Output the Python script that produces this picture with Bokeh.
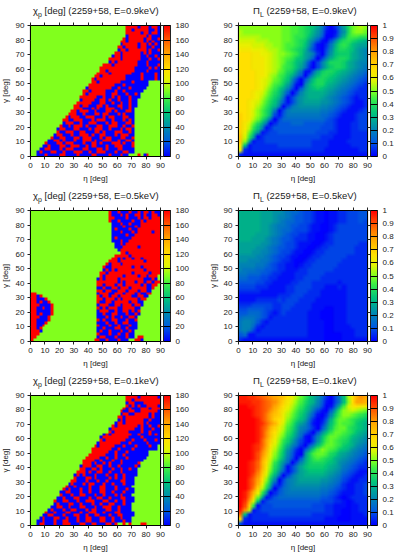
from bokeh.embed import file_html
from bokeh.resources import INLINE
from bokeh.layouts import column, row
from bokeh.models import ColorBar, Div, FixedTicker, LinearAxis, LinearColorMapper, Range1d
from bokeh.plotting import figure
import numpy as np

# chi_p [deg]: a number is a run of 90 deg cells, R=180, B=0. Rows from gamma=89 down to 1, 2 deg cells.
CHI_09 = [
(33,"RRRRBRRRBRRB"),(33,"RRBRRRRRBBRB"),(33,"RRRRRBRRBRRB"),(33,"BRRRRRRBRBBB"),(32,"RBRRRRRBRRBBR"),
(31,"RRBRRRRRBRBRBB"),(31,"BRRRRRBRRBRBRB"),(30,"RRBRRRRBRRBBRBB"),(30,"BRRBRRRRRRBRBBR"),(29,"RRBRRRRRRBRBRBBB"),
(28,"BRRBRRRRRRBBRBBRB"),(27,"RRRRBRRRRRRBBBRBBR"),(27,"BRBRRRRRRRBBBRBBBB"),(25,"RRRBRRRRRRRRBBBRBBBR"),(24,"RRRRRRRRRRRRBBBBBRBRB"),
(24,"RRBRRRRRRRRRBBBBRBBBB"),(23,"RRRRBRRRRRRRBBBRBBBBRB"),(22,"RRBRRRRRRRRBBBBBRBBBBRB"),(21,"RBRRRRRRRRRRBBBBBRBBBBRB"),(21,"RRBRRRRRRRBBBBRBBBBB"),
(20,"RRRRRRRRRBBBRBBBBBBBB"),(19,"BRRRRRRRRBBRBBBRBBBBB"),(18,"RRBRRRRRBBBRBBRBBBBBB"),(18,"RBRRRRRRBBRRBBBRBBRB"),(17,"RRRRRRBBRBBRBRBBBRBBB"),
(17,"BRRRRBBRRBRBBRBBBRBB"),(16,"RRRRRBBBRRBBRBBRBBRBB"),(15,"RRBRRBBBRRBRBBBRRBBRBB"),(15,"RRRBBBRBRBBRRRBBRBBRB"),(14,"RRBRRRBBRBBBRRBRBBBRRB"),
(13,"RRRBBRBBBRRBRRBBBRBRBBB"),(12,"RBRRRBBRRRBBBRBRRBBBRRBB"),(11,"RRBBRRRBBBRBRRRBBRBBBRBRB"),(11,"BRRRBBRBBRRRBBBRBRRBBBRRB"),(10,"RBBRBRRRBRBBBRRBBRRRBBRBBR"),
(9,"BRRBBBRRBBBRBRRRBBRBBBRBRRB"),(9,"RBBRRRBBRRBBBRRBRBBBRRRBBRB"),(8,"BRRBBBRBBRRRBRBBRRBBBRBRRRBB"),(7,"RBBRRBBBRRBRRRBBBRBRRBBBRRBBR"),(6,"BBRRBRBBBRBBRRRBRBBRRRBBRBBRRB"),
(5,"RBBBRRBRRRBBBRBBRRBRBBBRRRBRBBR"),(4,"BBRBBBRRBBRRRBBRBRRBBBRBBRRRBBBR"),(3,"BBRRBBBRBRRRBBBRRBBBRRBRBBBRRBBBB"),(2,"BRBBBRRBBRBBBRRRBBRBBRRRBBBRBBRRBB"),(2,"BBBRBBBBRRBBBBRBBBBRRBBBBRBBBRBB",3,"R",1,"BR"),
]
CHI_05 = [
(27,"RBBRBBBRBBRBRRBRBB"),(27,"RBBBRBRBBRRBRBBRRB"),(27,"RRBBBBRBBBRBRRBRRR"),(27,"RBBRBBBBRBBRBRRRRR"),(28,"BBBRBBRBBBRRRRRRR"),
(28,"BBBBRBBBRBRRRRRRR"),(28,"BRBBBBRBBRRRRRRRR"),(28,"BBBRBBBRBRRRRRBRR"),(28,"BBBBBRBBRRRRRRRRR"),(28,"BRBBBBBRRRRRRRRRR"),
(28,"BBBRBBRRRRRRRRRRR"),(29,"BBRBRRRRRRRRRRRR"),(29,"BBBRRRRRBRRRRRRR"),(30,"BRRRRRRRRRRRRRR"),(31,"RRBRRRRRRRRRRR"),
(29,"RRRRRBRRRRRRRRRR"),(28,"RRBRBRRBRRBRRRRRR"),(27,"RRRBRRRRRRRRBRRRRR"),(26,"RBRRRBRRRRRRRRRRRRR"),(25,"RBBRRRRRRRBRRBRRRRRR"),
(25,"BRBRBRRRRRRRRRBRRRRR"),(24,"RRBRRRRRRRRBRRRRRBRRR"),(24,"RBRRRRRRBRRRRBRRBRRR"),(23,"BRBRRRRBRRRRRRRRBBBRB"),(23,"RRRRRRRBRBRRRBRRBRRBRR"),
(23,"RRBRRRBRRBRRRRRBRBBRR"),(23,"BBRBBRRBRRRBRRRRRBBR"),(23,"RRBRRBBRRRBRRRBRRBB"),
("RR",21,"BRRRBBRRRBRRRBRBBRR"),("RRBR",19,"RBRRBRRBRRRRBBRRBB"),("RRBBBR",17,"RRBRRRBRBRRRRRBRR"),("RRBRBBR",16,"RBBRRBRRRRRBRRBB"),
("RRRBBBBR",15,"BRRRBBRRBRRRBRRB"),("RRBBRBBR",15,"RBRBRRRBBRRRRBB"),("RRBBBBBR",15,"BRRRBBRBBRRBRBR"),("RRBRBBBR",15,"BBRBBRRBBBRBBRB"),
("RRRBBBR",16,"BBBRBRBBRBBRRB"),("RRBBBBR",16,"RBRBBRRBBBRBBR"),("RRBBBR",17,"BBBRBBRBBRRBBB"),("RRBBR",18,"RBBBRBBRBBBRBB"),
("RRBR",19,"BBRBBBRRBBRBBB"),("RRRB",19,"BRBBRBBBRBBRB"),("RRR",20,"RBBBRBBRBBRBB"),("RR",21,"BRRBBBRBBBRBB",1,"RR"),("R",21,"RRBBRBBBRBBB",2,"RRB"),
]
CHI_01 = [
(33,"RRRRBRRRRRRB"),(33,"RRBRRRRRRRRR"),(33,"BRRBBBRRRRRR"),(33,"RBRBRBBRRRRB"),(32,"RBRBBBRRRBRRR"),
(31,"RBBRRBBRRRRRRB"),(31,"BRRBBRRRRRBRBB"),(30,"RRBRRRRRRRRBRBB"),(30,"BRBRRRRRRBBRBBB"),(29,"BRRBRRRRRRBRBBBB"),
(28,"RBRRRRRRRBRBBRBBR"),(27,"BRRRRRRRRBBRBBBRBB"),(27,"RBRRRRRBBBBRBBRBBB"),(25,"BRBRRRRRRRBBRBBBRBRBB"),(24,"BRRRRRRRRRBBBBRBBBBBB"),
(24,"RBRRRRRRRBBRBBBRBBBRB"),(23,"BRRRRRRRBBBRBBBBBRBBBB"),(22,"RBRRRRRBBBRBBBRBBBBRBB"),(21,"RRRRRRRBBRBBBBRBBBBBBBB"),(21,"RRRRRRBBRBBBRBBBBBBB"),
(20,"RRRRRRBBBRBBRBBBBBBBB"),(19,"RRRRRBBRBBRBBBRBBBBBB"),(18,"RRRRBBRBBBRBBRBBBBBBB"),(18,"RRRBRBBRBRBBBRBBBBBR"),(17,"BRRRBBRRBBRBBRBBBBBRB"),
(17,"RRBBRRBRBBBRBBRBBRBB"),(16,"RRRBRBBRRBBRBBBRBBBBB"),(15,"BRBRBBBRBBBRBBRBBRBBBB"),(15,"RBBBRRBRBBBBRBRBBRBBB"),(14,"RRBBBRBBBRBBRBBBBRRBBB"),
(13,"BRBBBRBRRBBBRBBRBBBRBBB"),(12,"RBBRBBBBRBBBRRBBBRBBBBB"),(11,"RBRBBBRBBRBBBRRBBBRBBBRBB"),(10,"BBRRBBBRBBRBBBRRBBRBBBRBBB"),(10,"RBBBRBBRRBBBRBBRBBBRBRBBB"),
(9,"BBRBBBRRBBBRBBRRBBRBBBRRBBB"),(8,"RBBRRBBBRBBRRRBBBRRBBRBBRBBB"),(8,"BRBBBRRBBRBBBRBBRBBRRBBBRBB"),(7,"BBRRBBRBBBRRBBBRBBRRRBBRBBBB"),(6,"BRBBBRBBRRBBBRBRRBBBRRBBRBBBB"),
(5,"RBBRBBBRRBBBRBBRRRBBRBBBRRBBBBB"),(4,"BBRRBBBRBBBRRBBRBBRRBBBRBBRRBBBB"),(3,"BRBBBRRBBRBBBRBBRRBBBRRBBRBBRBBB"),(2,"BBRBBBRBBRRBBBRBBRRBBBRRBBRBBBRBB"),(2,"BRRBBBRBBRRRBBBRRBBRRBBBRRBR",2,"R",1,"R",3,"RR"),
]

# Pi_L: character index * 0.03. Rows from gamma=88.5 down to 1.5, 3 deg cells.
PI_ALPHABET = "0123456789ABCDEFGHIJKLMNOPQRSTUVWX"
PI_09 = [
"HHHHHHHHHHGGFFEDCB9620259DGHIH","IHHHHHHHHHGGFFEDCA8510158DGHHG","IIIIIHHHHHGGFEEDB9740026AEFFEE","JJJJIIIHHHGGFEDC9741037BDEDCBA",
"KKKJJJIIHHGFFEDB841026ADEDBA99","LLLKKKJIIHGFEDCA631037BDDCB987","MMMLLKKJIHHGFEC9862048BCCCA987","MMMLLLKJIHGFECB974037ACDDCA987",
"MMMLLLKJIHGEDBA73037ADDDCA9877","MMMLLLKJIHFEDB962037ACDDCA9876","MMMMLLKJIGFDC961159CDDCBA98765","MMMMLLKIHFECA74048BDDCBA987654",
"MMMMLKJIGFDB73048BDDCBA9876543","MMMMLKJHFEC95107ACDDBA98765432","MMMMLKIGECA73048ABCBA987654322","MMMLKJHFDB840379AAAA9876543222",
"MMMLKIGECA613689AAA98765432122","MMLKJHFDB841368999988765432112","MMLKIGECA603678888877654321112","MMLJHFDB6036777777766543211123",
"NMLJHFDA3146666666655432111233","NMLIGDA50355555555554321111233","NLJGDA602444555444443321112233","NLIEB7124444444444433321112233",
"NKGC81233444444444333221112222","OJE912333333333333322211112222","OH9122333333333332222111122222","MB1222222333333332222111112222",
"K21222222222222222221111111122","211111111111111111111111111111",
]
PI_05 = [
"AAAAA9998876554332110112233344","AAAAA9998776544332110112233344","AAAAA9998765544332110112233343","AAAAA9987665443321100123333333",
"AAAAA9987655433321100123333333","AAAA9998765433221100123333333","AAA99987654432221100123333333","999998876543321110012233333322",
"999988765443321100122333333222","999887765433211001223333333222","888877654332110012233333322222","887776654322100122333333222222",
"777766543221101223333332222222","766655443221112233333322222222","665554432211122233332222222222","554443322111122333322222222222",
"444433221111223332222221222222","333322211112233332221112122222","222221111112233322211111122222","111111111222333222211111122222",
"111122222323332222111111122222","222333332233322221111111122222","334444332233222221110011122222","445554321232222211100011122222",
"566654312222222211100011122222","677642122222222211110011122222","677521222222222211110011112222","676312222222222211110011111222",
"451122222222222211110000111222","211111111111111111110000111111",
]
PI_01 = [
"WWVVUTSRQPOMKIGECA852036BIMPRQ","WWWVVUTSRPNLJHFDBA741036BHMQQP","XXWWVUTSQOMKIGECA863015AFJLMLL","XXXWVUTRPNLJHFDB9631049EHIJIHG",
"XXXWVUSQONKIGECA741027CFHHGFED","XXXXWUSQNMKHFDB952014AEGGFEDCB","XXXXWVTRPMJGEB9741026BEGFFECBA","XXXXWUSPNKIFDA7642048CFGGEDCBA",
"XXXXWUROMJHEC9642048BEGGFEDBA9","XXXXWUROLIGDB851037BEGGFEDBA98","XXXXWTQNKHEC9631038CFGFEDCA987","XXXWVTQMJGDA752047BEGGFECBA876",
"XXXWVSPLIFC852048CFHGFECBA8765","XXXWUROKHEB74108CFGGFDCA987654","XXXWUQNJGDA63049CEFEDCA9876543","XXWVTPMIEB85037ACDDDCBA8765432",
"XXWVTPLHDA61369BCCCCBA98654322","XXWVSOKGC841369ABBBBA987543211","XXWURNJEA503689AAAAA9876432112","XXVTQMHC7036789999988765321122",
"XXVTPKFA3146788888877654211223","XXVSNID70356777777766543211223","XWTPKE802456666666655432111223","XWSNG912455555555554432101222",
"XVQJB1344444444444433322101222","XUNE13334444444443332211101122","WRI123333333333333332211001122","TB1222233333333332222211001112",
"N21222222222222222221110001111","411111111111111111111111111111",
]

ETA_TICKS = list(range(0, 91, 10))
CHI_TICKS = list(range(0, 181, 20))
PI_TICKS = [0, .1, .2, .3, .4, .5, .6, .7, .8, .9, 1]
ENERGIES = ["E=0.9keV", "E=0.5keV", "E=0.1keV"]

stops = [(0, (0, 0, 255)), (.11, (0, 90, 225)), (.22, (0, 140, 175)), (.33, (0, 195, 125)), (.44, (60, 238, 70)),
         (.5, (128, 255, 32)), (.58, (225, 245, 5)), (.66, (255, 225, 0)), (.78, (255, 170, 0)), (.89, (255, 90, 0)), (1, (255, 0, 0))]
xs = np.linspace(0, 1, 256)
PAL = ["#%02x%02x%02x" % tuple(int(round(np.interp(t, [s[0] for s in stops], [s[1][k] for s in stops]))) for k in range(3)) for t in xs]
FONT = "Liberation Sans"
INK = "#222222"


def chi_grid(rows):
    out = []
    for r in rows:
        s = ""
        for part in r:
            s += "." * part if isinstance(part, int) else part
        s = s[:45].ljust(45, ".")
        out.append([{".": 90.0, "R": 180.0, "B": 0.0}[c] for c in s])
    return np.array(out[::-1])


def pi_grid(rows):
    return np.array([[PI_ALPHABET.index(c) * .03 for c in r[:30].ljust(30, r[-1])] for r in rows[::-1]])


def panel(grid, high, ticks, title, pad, left, width, bottom, shifts):
    head = Div(text=title, width=width, height=20, margin=0,
               styles={"font-family": FONT, "font-size": "9.5px", "color": INK, "padding-left": f"{pad}px",
                       "padding-top": "6px", "line-height": "10px", "white-space": "nowrap", "box-sizing": "border-box"})
    p = figure(width=width, height=138 + bottom, title=None,
               x_range=Range1d(0, 90), y_range=Range1d(0, 90), output_backend="svg", toolbar_location=None,
               min_border_left=left, min_border_right=width - left - 133, min_border_top=5, min_border_bottom=bottom,
               x_axis_label="η [deg]", y_axis_label="γ [deg]", outline_line_color="black", outline_line_width=1.2, margin=0)
    mapper = LinearColorMapper(palette=PAL, low=0, high=high)
    p.image(image=[grid], x=0, y=0, dw=90, dh=90, color_mapper=mapper)
    k = 0
    for dx in shifts:
        for dy in shifts:
            k += 1
            p.image(image=[grid], x=dx, y=dy, dw=90, dh=90, color_mapper=mapper, global_alpha=1 / k)
    p.grid.visible = False
    for ax in (p.xaxis[0], p.yaxis[0]):
        ax.ticker = FixedTicker(ticks=ETA_TICKS)
        ax.major_tick_out = 3
        ax.major_tick_in = 0
        ax.minor_tick_line_color = None
        ax.axis_line_color = "black"
        ax.major_tick_line_color = INK
        ax.major_label_text_font = FONT
        ax.major_label_text_font_size = "8px"
        ax.major_label_text_color = INK
        ax.axis_label_text_font = FONT
        ax.axis_label_text_font_size = "8px"
        ax.axis_label_text_font_style = "normal"
        ax.axis_label_text_color = INK
        ax.axis_label_standoff = 3
        ax.major_label_standoff = 3
    p.yaxis[0].major_label_orientation = "horizontal"
    for loc in ("above", "right"):
        ax = LinearAxis(ticker=FixedTicker(ticks=ETA_TICKS), major_tick_out=3, major_tick_in=0, minor_tick_line_color=None,
                        major_label_text_color=None, major_label_text_font_size="1px", major_label_standoff=0,
                        axis_line_color="black", major_tick_line_color=INK)
        p.add_layout(ax, loc)
    cb = ColorBar(color_mapper=mapper, ticker=FixedTicker(ticks=ticks), width=7, padding=0, margin=11,
                  major_tick_in=7, major_tick_out=0, major_tick_line_color="black", major_tick_line_width=1,
                  bar_line_color=INK, bar_line_width=1, major_label_text_font=FONT,
                  major_label_text_font_size="8px", major_label_text_color=INK, label_standoff=5,
                  minor_tick_line_color=None)
    p.add_layout(cb, "right")
    return column(head, p, spacing=0, margin=0)


rows = []
CHI_SHIFT = [-.35, .35]
PI_SHIFT = [-1.1, -.37, .37, 1.1]
for chi, pi_, energy, b in zip([CHI_09, CHI_05, CHI_01], [PI_09, PI_05, PI_01], ENERGIES, [27, 27, 26]):
    t1 = f"χ<sub style='font-size:7px;line-height:0'>p</sub> [deg] (2259+58, {energy})"
    t2 = f"Π<sub style='font-size:7px;line-height:0'>L</sub> (2259+58, {energy})"
    rows.append(row(panel(chi_grid(chi), 180, CHI_TICKS, t1, 36, 30, 208, b, CHI_SHIFT),
                    panel(pi_grid(pi_), 1, PI_TICKS, t2, 48, 29, 207, b, PI_SHIFT), spacing=0, margin=0))
layout = column(*rows, spacing=0, margin=(0, 0, 0, -3))
open("out.html", "w").write(file_html(layout, INLINE))
